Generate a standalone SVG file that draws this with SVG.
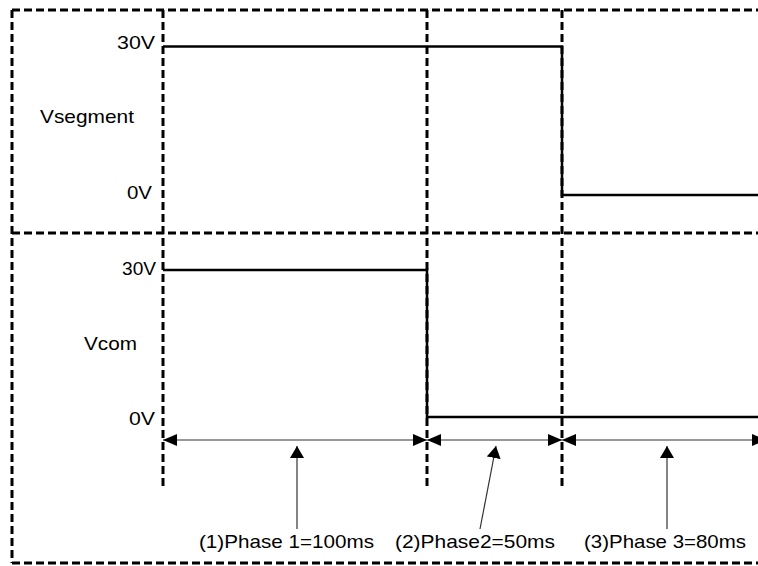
<svg xmlns="http://www.w3.org/2000/svg" width="758" height="566" viewBox="0 0 758 566">
<style>
.grid{fill:none;stroke:#000;stroke-width:3;stroke-dasharray:8 4;}
.wave{fill:none;stroke:#000;stroke-width:2.5;stroke-linejoin:miter;}
.lbl{font-family:"Liberation Sans",Arial,sans-serif;font-size:19px;fill:#000;}
.ph{font-family:"Liberation Sans",Arial,sans-serif;font-size:19px;fill:#000;}
.dim{fill:none;stroke:#333;stroke-width:1.2;marker-start:url(#ah);marker-end:url(#ah);}
.ptr{fill:none;stroke:#333;stroke-width:1.2;marker-end:url(#ap);}
</style>
<defs>
<marker id="ah" markerUnits="userSpaceOnUse" markerWidth="14" markerHeight="12" refX="14" refY="6" orient="auto-start-reverse" viewBox="0 0 14 12"><path d="M0,0 L14,6 L0,12 Z" fill="#000"/></marker>
<marker id="ap" markerUnits="userSpaceOnUse" markerWidth="12" markerHeight="14" refX="12" refY="7" orient="auto" viewBox="0 0 12 14"><path d="M0,0 L12,7 L0,14 Z" fill="#000"/></marker>
</defs>
<g id="grid">
<path class="grid" d="M12,10 H758"/>
<path class="grid" d="M12,233 H758"/>
<path class="grid" d="M12,563 H758"/>
<path class="grid" d="M12,10 V563"/>
<path class="grid" d="M163,10 V488"/>
<path class="grid" d="M427,10 V488"/>
<path class="grid" d="M562,10 V488"/>
</g>
<g id="vsegment">
<path class="wave" d="M163,46.5 H562 V195 H758"/>
<text class="lbl" x="117" y="49" textLength="38" lengthAdjust="spacingAndGlyphs">30V</text>
<text class="lbl" x="40" y="123" textLength="94" lengthAdjust="spacingAndGlyphs">Vsegment</text>
<text class="lbl" x="127" y="199" textLength="25" lengthAdjust="spacingAndGlyphs">0V</text>
</g>
<g id="vcom">
<path class="wave" d="M163,270 H427 V417 H758"/>
<text class="lbl" x="122" y="275" textLength="34" lengthAdjust="spacingAndGlyphs">30V</text>
<text class="lbl" x="84" y="350" textLength="53" lengthAdjust="spacingAndGlyphs">Vcom</text>
<text class="lbl" x="129" y="425" textLength="26" lengthAdjust="spacingAndGlyphs">0V</text>
</g>
<g id="phase1">
<text class="ph" x="199" y="548" textLength="175" lengthAdjust="spacingAndGlyphs">(1)Phase 1=100ms</text>
</g>
<g id="phase2">
<text class="ph" x="395" y="548" textLength="160" lengthAdjust="spacingAndGlyphs">(2)Phase2=50ms</text>
</g>
<g id="phase3">
<text class="ph" x="584" y="548" textLength="162" lengthAdjust="spacingAndGlyphs">(3)Phase 3=80ms</text>
</g>
<g id="connectors">
<path class="dim" d="M163,440 H427"/>
<path class="dim" d="M427,440 H562"/>
<path class="dim" d="M562,440 H766"/>
<path class="ptr" d="M297,529 V446"/>
<path class="ptr" d="M480,529 L496,446"/>
<path class="ptr" d="M667,529 V446"/>
</g>
</svg>
